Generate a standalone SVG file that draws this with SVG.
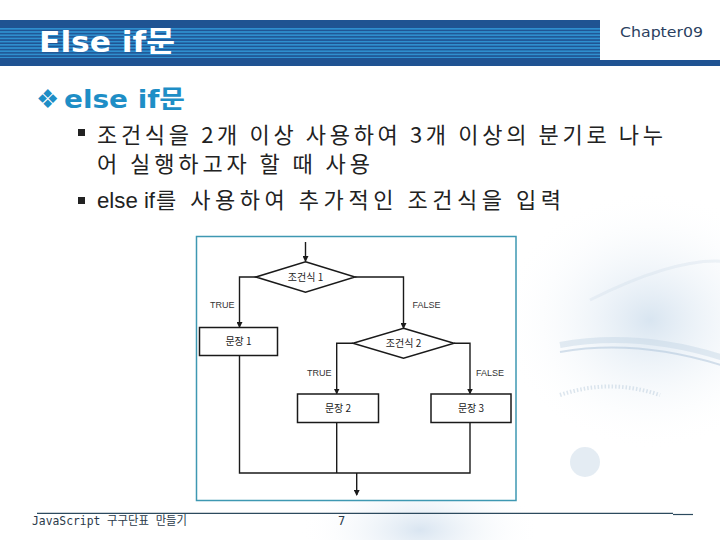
<svg xmlns="http://www.w3.org/2000/svg" width="720" height="540" viewBox="0 0 720 540">
  <defs>
    <pattern id="stripes" patternUnits="userSpaceOnUse" x="0" y="28" width="20" height="3.2">
      <rect x="0" y="0" width="20" height="1.7" fill="#2F8FCF"/>
    </pattern>
    <radialGradient id="glow1" cx="0.5" cy="0.5" r="0.5">
      <stop offset="0" stop-color="#d4e2ef" stop-opacity="0.9"/>
      <stop offset="1" stop-color="#ffffff" stop-opacity="0"/>
    </radialGradient>
    <radialGradient id="glow2" cx="0.5" cy="0.5" r="0.5">
      <stop offset="0" stop-color="#c9daeb" stop-opacity="0.7"/>
      <stop offset="1" stop-color="#ffffff" stop-opacity="0"/>
    </radialGradient>
    <marker id="arr" markerWidth="6" markerHeight="6" refX="5" refY="3" orient="auto" markerUnits="userSpaceOnUse">
      <path d="M0,0 L6,3 L0,6 Z" fill="#1a1a1a"/>
    </marker>
    <style>
      .body { font-family: "Noto Sans CJK KR", "Noto Sans", sans-serif; fill: #222; }
      .lat { font-family: "Liberation Sans", sans-serif; fill: #222; }
      .fc { fill: none; stroke: #1a1a1a; stroke-width: 1.4; }
      .node { fill: #ffffff; stroke: #1a1a1a; stroke-width: 1.5; }
      .ntext { font-family: "Noto Sans CJK KR", "Liberation Sans", sans-serif; font-size: 10px; fill: #222; text-anchor: middle; }
      .lbl { font-family: "Liberation Sans", sans-serif; font-size: 9px; fill: #333; }
      .foot { font-family: "DejaVu Sans Mono", "Noto Sans CJK KR", monospace; font-size: 12px; fill: #2a3a4a; }
    </style>
  </defs>

  <!-- background -->
  <rect x="0" y="0" width="720" height="540" fill="#ffffff"/>
  <ellipse cx="650" cy="320" rx="150" ry="130" fill="url(#glow1)"/>
  <ellipse cx="420" cy="530" rx="120" ry="60" fill="url(#glow2)"/>
  <g fill="none" stroke="#c3d4e4" stroke-opacity="0.45">
    <path d="M560,345 Q640,330 730,360" stroke-width="6"/>
    <path d="M560,352 Q640,338 730,368" stroke-width="2" stroke="#a4bdd4"/>
    <path d="M590,300 Q680,255 730,262" stroke-width="3" stroke-opacity="0.25"/>
    <path d="M560,395 Q610,378 660,395" stroke-width="4" stroke="#b4c8da" stroke-dasharray="1.5 2"/>
  </g>
  <circle cx="585" cy="462" r="15" fill="#d2dfeb" fill-opacity="0.6"/>

  <!-- header -->
  <g id="header">
    <rect x="0" y="20" width="720" height="46" fill="#1F5392"/>
    <rect x="0" y="28" width="600" height="30" fill="url(#stripes)"/>
    <rect x="600" y="20" width="120" height="40" fill="#ffffff"/>
    <text x="39" y="52" font-family="'DejaVu Sans', 'Noto Sans CJK KR', sans-serif" font-weight="bold" font-size="29" fill="#ffffff" textLength="136" lengthAdjust="spacingAndGlyphs">Else if문</text>
    <text x="620" y="37" font-family="'DejaVu Sans', sans-serif" font-size="13.5" fill="#2B3F5F" textLength="83" lengthAdjust="spacingAndGlyphs">Chapter09</text>
  </g>

  <!-- heading and bullets -->
  <g id="content">
    <text x="36" y="108" font-family="'DejaVu Sans', sans-serif" font-size="26" fill="#1E8EC6">❖</text>
    <text x="64" y="108" font-family="'DejaVu Sans', 'Noto Sans CJK KR', sans-serif" font-weight="bold" font-size="25" fill="#1E8EC6" textLength="121" lengthAdjust="spacingAndGlyphs">else if문</text>
    <rect x="78" y="129" width="7" height="7" fill="#222"/>
    <text class="body" x="97" y="143" font-size="22" textLength="566" lengthAdjust="spacing">조건식을 2개 이상 사용하여 3개 이상의 분기로 나누</text>
    <text class="body" x="97" y="172" font-size="22" textLength="273" lengthAdjust="spacing">어 실행하고자 할 때 사용</text>
    <rect x="78" y="197" width="7" height="7" fill="#222"/>
    <text class="lat" x="97" y="208" font-size="22" textLength="58" lengthAdjust="spacingAndGlyphs">else if</text>
    <text class="body" x="156" y="208" font-size="22" textLength="405" lengthAdjust="spacing">를 사용하여 추가적인 조건식을 입력</text>
  </g>

  <!-- flowchart frame -->
  <rect x="196.5" y="236.5" width="319.5" height="264" fill="#ffffff" stroke="#3E98B2" stroke-width="1.5"/>

  <!-- connectors -->
  <g id="connectors">
    <path class="fc" d="M305.5,242 V261" marker-end="url(#arr)"/>
    <path class="fc" d="M256,277 H239.5 V327" marker-end="url(#arr)"/>
    <path class="fc" d="M355,277 H403.5 V328" marker-end="url(#arr)"/>
    <path class="fc" d="M353,343.3 H336.7 V393.5" marker-end="url(#arr)"/>
    <path class="fc" d="M454,343.3 H470 V393.5" marker-end="url(#arr)"/>
    <path class="fc" d="M239.5,356 V473 H470 V423"/>
    <path class="fc" d="M336.7,423 V473"/>
    <path class="fc" d="M356.7,473 V495" marker-end="url(#arr)"/>
    <text class="lbl" x="210" y="308">TRUE</text>
    <text class="lbl" x="412.5" y="308">FALSE</text>
    <text class="lbl" x="307" y="376">TRUE</text>
    <text class="lbl" x="476" y="376">FALSE</text>
  </g>

  <g id="cond1">
    <polygon class="node" points="305.5,261.7 355,277 305.5,292.3 256,277" stroke-width="1.4"/>
    <text class="ntext" x="305.5" y="280.5">조건식 1</text>
  </g>
  <g id="stmt1">
    <rect class="node" x="199.5" y="327.5" width="78" height="28" stroke-width="2"/>
    <text class="ntext" x="238.5" y="345">문장 1</text>
  </g>
  <g id="cond2">
    <polygon class="node" points="403.5,328.3 454,343.3 403.5,358.3 353,343.3" stroke-width="1.4"/>
    <text class="ntext" x="403.5" y="347">조건식 2</text>
  </g>
  <g id="stmt2">
    <rect class="node" x="297.5" y="394" width="81" height="28.5"/>
    <text class="ntext" x="338" y="412">문장 2</text>
  </g>
  <g id="stmt3">
    <rect class="node" x="431" y="394" width="80" height="28.5"/>
    <text class="ntext" x="471" y="412">문장 3</text>
  </g>

  <!-- footer -->
  <g id="footer">
    <line x1="37" y1="513.3" x2="673" y2="513.3" stroke="#2C4A5E" stroke-width="1.2"/>
    <line x1="673" y1="514.5" x2="693" y2="514.5" stroke="#2C4A5E" stroke-width="1.2"/>
    <text class="foot" x="32" y="525" textLength="155" lengthAdjust="spacingAndGlyphs">JavaScript 구구단표 만들기</text>
    <text class="foot" x="338" y="525">7</text>
  </g>
</svg>
